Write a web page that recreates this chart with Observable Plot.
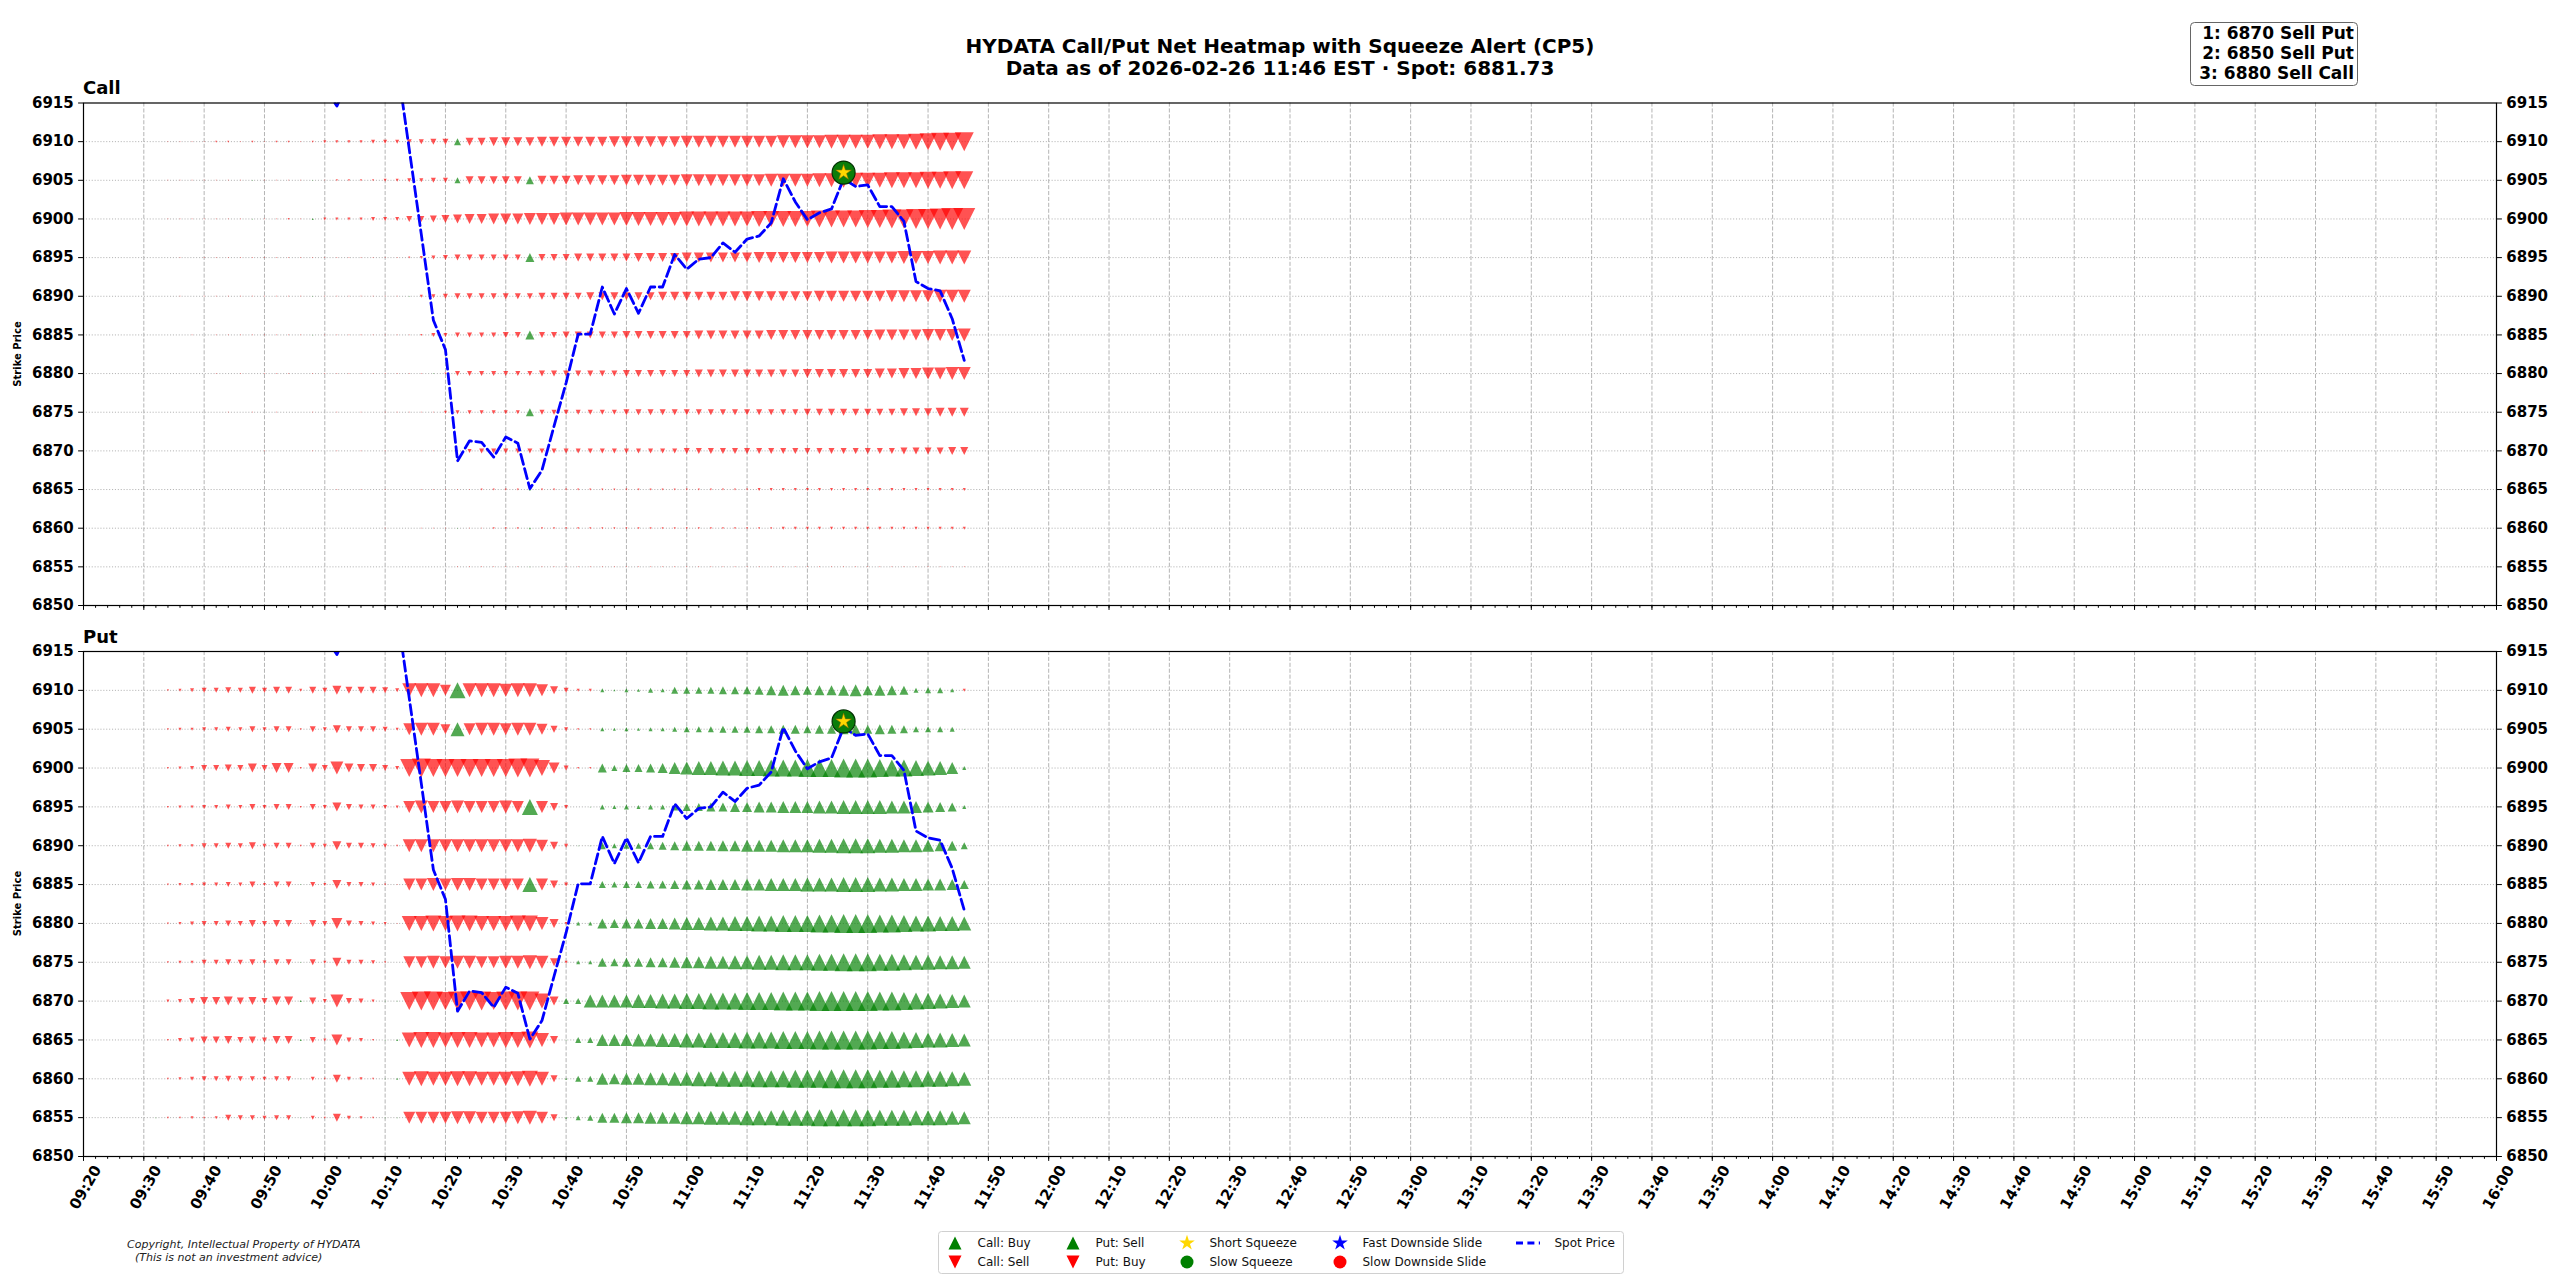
<!DOCTYPE html>
<html><head><meta charset="utf-8">
<script src="https://cdn.jsdelivr.net/npm/d3@7"></script>
<script src="https://cdn.jsdelivr.net/npm/@observablehq/plot@0.6"></script>
<style>
body{margin:0;background:#fff;}
#root{position:relative;width:2560px;height:1280px;overflow:hidden;background:#fff;font-family:"DejaVu Sans",sans-serif;}
#root > div{position:absolute;left:0;}
</style></head><body><div id="root"></div>
<script>
// ---------------- DATA ----------------
const timeLabels = ["09:32","09:34","09:36","09:38","09:40","09:42","09:44","09:46","09:48","09:50","09:52","09:54","09:56","09:58","10:00","10:02","10:04","10:06","10:08","10:10","10:12","10:14","10:16","10:18","10:20","10:22","10:24","10:26","10:28","10:30","10:32","10:34","10:36","10:38","10:40","10:42","10:44","10:46","10:48","10:50","10:52","10:54","10:56","10:58","11:00","11:02","11:04","11:06","11:08","11:10","11:12","11:14","11:16","11:18","11:20","11:22","11:24","11:26","11:28","11:30","11:32","11:34","11:36","11:38","11:40","11:42","11:44","11:46"];
const xTickLabels = ["09:20","09:30","09:40","09:50","10:00","10:10","10:20","10:30","10:40","10:50","11:00","11:10","11:20","11:30","11:40","11:50","12:00","12:10","12:20","12:30","12:40","12:50","13:00","13:10","13:20","13:30","13:40","13:50","14:00","14:10","14:20","14:30","14:40","14:50","15:00","15:10","15:20","15:30","15:40","15:50","16:00"];
const strikes = [6910,6905,6900,6895,6890,6885,6880,6875,6870,6865,6860,6855];
const yTicks = [6850,6855,6860,6865,6870,6875,6880,6885,6890,6895,6900,6905,6910,6915];

// Call net flow per strike (positive = Call: Buy, negative = Call: Sell)
const call6910 = [0,-1,-1,-1,-1,-2,-2,-1,-2,-1,-2,-2,-1,-2,-3,-3,-3,-3,-4,-4,-4,-5,-5,-6,-6,7,-8,-8,-9,-9,-9,-9,-10,-10,-10,-10,-10,-10,-11,-11,-11,-11,-11,-11,-12,-12,-12,-12,-12,-12,-12,-12,-13,-13,-13,-13,-14,-14,-14,-14,-15,-15,-15,-16,-17,-18,-18,-19];
const call6905 = [0,-1,-1,-1,-1,-1,-1,-1,1,-1,-1,-1,-1,1,-1,-2,-2,-2,-2,-3,-3,-4,-4,-5,-5,6,-8,-8,-8,-8,-8,8,-9,-9,-9,-10,-10,-10,-10,-11,-11,-11,-11,-11,-12,-12,-12,-12,-12,-12,-12,-13,-13,-13,-13,-14,-14,-15,-15,-15,-15,-16,-16,-16,-17,-17,-18,-18];
const call6900 = [0,-1,-1,-1,-1,-1,-1,-1,1,-1,-1,-2,-1,2,-3,-3,-3,-3,-4,-4,-4,-6,-6,-7,-8,-9,-10,-10,-11,-11,-11,-12,-12,-12,-13,-13,-13,-13,-13,-14,-14,-14,-14,-14,-15,-15,-15,-15,-15,-15,-16,-16,-16,-16,-16,-17,-17,-17,-17,-18,-18,-19,-19,-20,-20,-21,-22,-22];
const call6895 = [0,0,-1,0,-1,-1,-1,-1,-1,-1,-1,-1,-1,-1,-1,-1,-1,-1,-1,-1,-1,-2,-3,-4,-5,-6,-6,-6,-6,-6,-6,9,-7,-7,-7,-8,-8,-8,-8,-8,-9,-9,-9,-9,-10,-10,-10,-10,-10,-10,-11,-11,-11,-11,-11,-11,-12,-12,-12,-12,-12,-12,-13,-13,-13,-14,-14,-14];
const call6890 = [0,0,-1,0,-1,-1,-1,-1,-1,-1,-1,-1,-1,1,-1,-1,-1,-1,-1,-1,-1,1,-3,-4,-5,-6,-6,-6,-6,-6,-6,-6,-7,-7,-7,-7,-8,-8,-8,-8,-8,-8,-9,-9,-9,-9,-9,-9,-10,-10,-10,-10,-10,-10,-10,-11,-11,-11,-11,-11,-11,-12,-12,-12,-12,-13,-13,-13];
const call6885 = [0,0,0,-1,0,-1,-1,-1,-1,-1,-1,-1,-1,1,-1,-1,-1,-1,-1,-1,-1,-1,-2,-4,-4,-5,-5,-5,-5,-6,-6,9,-6,-6,-7,-7,-7,-7,-7,-8,-8,-8,-8,-8,-8,-9,-9,-9,-9,-9,-9,-10,-10,-10,-10,-10,-10,-10,-10,-10,-11,-11,-11,-11,-12,-12,-12,-13];
const call6880 = [0,0,0,0,0,-1,0,-1,0,-1,-1,-1,0,-1,-1,-1,-1,-1,-1,-1,-1,-1,-1,1,-2,-5,-5,-5,-5,-5,-5,-5,-6,-6,-6,-6,-6,-6,-6,-7,-7,-7,-7,-7,-7,-8,-8,-8,-8,-8,-8,-8,-8,-8,-9,-9,-9,-9,-9,-9,-10,-10,-11,-11,-12,-12,-13,-13];
const call6875 = [0,0,0,0,0,0,-1,0,-1,0,-1,0,0,-1,0,-1,0,-1,0,-1,-1,-1,-1,-1,-3,-4,-4,-4,-4,-4,-4,8,-5,-5,-5,-5,-5,-5,-5,-6,-6,-6,-6,-6,-6,-6,-6,-6,-6,-6,-6,-6,-6,-6,-7,-7,-7,-7,-7,-7,-7,-7,-8,-8,-8,-9,-9,-9];
const call6870 = [0,0,0,0,0,0,0,0,0,-1,0,0,0,-1,0,-1,0,-1,0,-1,0,-1,-1,-1,-1,-1,-4,-5,-5,-5,-5,-5,-5,-5,-5,-5,-5,-5,-5,-5,-5,-5,-5,-5,-6,-6,-6,-6,-6,-6,-6,-6,-6,-6,-6,-6,-6,-6,-6,-6,-6,-6,-7,-7,-7,-7,-8,-8];
const call6865 = [0,0,0,0,0,0,0,0,0,0,0,0,0,0,0,-1,0,-1,0,-1,0,0,-1,-1,-1,-1,-1,-2,-2,-2,-2,2,-2,-2,-2,-2,-2,-2,-2,-2,-2,-2,-2,-2,-2,-2,-2,-2,-2,-2,-3,-3,-3,-3,-3,-3,-3,-3,-3,-3,-3,-3,-3,-3,-3,-3,-3,-3];
const call6860 = [0,0,0,0,0,0,0,0,0,0,0,0,0,0,0,0,0,0,0,-1,0,0,-1,-1,-1,1,-1,-1,-2,-2,-2,2,-2,-2,-2,-2,-2,-2,-2,-2,-2,-2,-2,-2,-2,-2,-2,-2,-2,-2,-2,-2,-3,-3,-3,-3,-3,-3,-3,-3,-3,-3,-3,-3,-3,-3,-3,-3];
const call6855 = [0,0,0,0,0,0,0,0,0,0,0,0,0,0,0,0,0,0,0,0,0,0,0,0,0,-1,-1,-1,-1,-1,-1,1,-1,-1,-1,-1,-1,-1,-1,-1,-1,-1,-1,-1,-1,-1,-1,-1,-1,-1,-1,-1,-1,-1,-1,-1,-1,-1,-1,-1,-1,-1,-1,-1,-1,-1,-1,-1];

// Put net flow per strike (positive = Put: Sell, negative = Put: Buy)
const put6910 = [0,-2,-3,-4,-5,-5,-6,-5, -7,-5,-7,-7,-3,-7,-5,-9,-7,-7,-7,-6,-4, -14,-14,-14,-11,16,-14,-14,-14,-13,-14,-14,-12,-8, -5,-3,-3, 4,2,4,3,5,4,7, 7,7,7,8,8,8, 9,10,11,10,9, 10,10,11,12,10, 11,10,9,5,6, 6,4,-3];
const put6905 = [0,-2,-3,-3,-4,-4,-5,-4, -6,-4,-6,-6,-2,-6,-4,-8,-6,-6,-6,-5,-3, -12,-13,-13,-10,14,-12,-13,-13,-12,-13,-13,-11,-7, -4,-2,-2, 4,3,4,3,4,4,5, 6,6,6,7,7,7, 8,8,9,9,8, 9,9,10,10,9, 10,9,8,6,6, 6,5,1];
const put6900 = [0,-2,-3,-4,-6,-6,-7,-6, -9,-6,-10,-10,-2,-9,-6,-13,-9,-8,-8,-6,-4, -18,-19,-18,-18,-18,-18,-18,-18,-18,-19,-19,-16,-11, -5,-2,-2, 9,6,8,8,9,10,12, 13,14,14,15,15,16, 16,17,17,17,18, 18,18,19,19,19, 18,17,17,16,15, 14,12,4];
const put6895 = [0,-2,-3,-3,-4,-4,-5,-4, -6,-4,-6,-6,-2,-6,-4,-9,-6,-5,-5,-4,-3, -12,-13,-12,-12,-13,-12,-12,-12,-13,-12,16,-12,-8, -4,0,1, 5,4,5,4,5,5,7, 8,8,9,9,10,10, 11,11,12,12,12, 13,13,14,14,14, 14,13,13,12,11, 10,9,4];
const put6890 = [0,-2,-3,-3,-5,-5,-6,-5, -7,-4,-6,-6,-2,-6,-4,-9,-6,-6,-5,-4,-2, -13,-13,-13,-13,-13,-13,-13,-13,-13,-13,-14,-12,-8, -4,1,1, 7,5,6,6,7,8,9, 10,10,10,11,11,12, 12,12,13,13,13, 14,14,15,15,15, 14,14,13,13,12, 11,10,7];
const put6885 = [0,-2,-3,-3,-4,-4,-5,-4, -6,-3,-6,-6,1,-5,-3,-9,-5,-5,-4,-2,-1, -12,-12,-13,-12,-13,-13,-12,-12,-12,-12,15,-12,-8, -4,0,0, 7,6,7,7,8,8,9, 10,10,11,11,11,12, 12,13,13,13,14, 14,14,15,15,15, 14,14,13,13,12, 12,11,9];
const put6880 = [0,-2,-3,-4,-5,-5,-6,-5, -7,-5,-7,-7,-1,-7,-5,-11,-6,-5,-4,-3,-1, -15,-15,-16,-15,-16,-16,-15,-15,-15,-16,-16,-13,-9, -3,4,4, 10,9,10,10,11,11,12, 13,13,14,14,15,15, 16,16,17,17,17, 18,18,19,19,19, 18,18,17,16,16, 15,15,14];
const put6875 = [0,-2,-3,-3,-5,-5,-6,-5, -6,-4,-6,-6,1,-6,-3,-9,-5,-5,-4,-2,0, -12,-12,-13,-12,-13,-13,-12,-12,-13,-13,-14,-13,-8, -3,4,4, 9,8,9,9,10,10,11, 12,12,13,13,14,14, 15,15,16,16,16, 17,17,18,18,18, 17,17,16,15,15, 14,14,13];
const put6870 = [0,-3,-4,-6,-8,-8,-9,-7, -8,-6,-9,-9,2,-7,-4,-13,-6,-5,-3,1,1, -18,-19,-19,-18,-19,-19,-19,-18,-19,-19,-19,-15,-9, 6,6,13, 13,13,13,14,14,15,15, 16,16,17,17,17,18, 18,18,19,19,19, 20,20,20,20,20, 19,19,18,17,16, 15,14,13];
const put6865 = [0,-2,-4,-5,-7,-7,-8,-6, -7,-5,-8,-8,2,-6,-3,-11,-5,-4,-2,1,2, -15,-16,-16,-15,-16,-16,-15,-15,-16,-16,-17,-14,-8, 1,6,6, 12,12,12,13,13,14,14, 15,15,16,16,16,17, 17,17,18,18,18, 19,19,19,19,19, 18,18,17,16,15, 15,14,13];
const put6860 = [0,-2,-3,-4,-5,-5,-6,-5, -5,-4,-5,-5,1,-4,-2,-8,-4,-3,-2,1,2, -14,-15,-14,-14,-15,-15,-14,-14,-14,-15,-16,-14,-7, 2,6,6, 12,11,12,12,13,13,14, 14,15,15,16,16,16, 17,17,17,18,18, 18,19,19,19,19, 18,18,17,17,16, 16,15,14];
const put6855 = [1,-2,-2,-3,-2,-3,-6,-5, -5,-4,-5,-5,1,-4,-2,-8,-4,-3,-2,1,1, -12,-12,-12,-12,-13,-13,-12,-12,-12,-13,-14,-12,-7, 2,5,6, 10,10,11,11,12,12,12, 13,13,14,14,14,15, 15,15,16,16,16, 17,17,17,17,17, 16,16,16,15,15, 15,14,13];

// Spot price (values before 10:14 sit above the 6915 top of the panels)
const spotPrice = [6928,6930,6931,6929,6927,6926,6925,6924,6923,6922,6921,6920,6919,6918,6917,6914.6,6918,6921,6923,6922,6920,6909,6898,6886.9,6883.1,6868.7,6871.3,6871.1,6869.2,6871.8,6871.0,6865.1,6867.5,6873.2,6878.8,6885.1,6885.1,6891.2,6887.7,6891.0,6887.8,6891.2,6891.2,6895.4,6893.5,6894.8,6895.0,6896.9,6895.7,6897.4,6897.8,6899.5,6905.2,6902.2,6899.9,6900.8,6901.3,6905.2,6904.2,6904.4,6901.6,6901.6,6899.7,6891.9,6891.0,6890.7,6887.1,6881.7];

// Squeeze alerts
const alertTimes = ["11:26"];
const alertPrices = [6906];
const alertKinds = ["Short Squeeze + Slow Squeeze"];

const callRows = [call6910,call6905,call6900,call6895,call6890,call6885,call6880,call6875,call6870,call6865,call6860,call6855];
const putRows = [put6910,put6905,put6900,put6895,put6890,put6885,put6880,put6875,put6870,put6865,put6860,put6855];
[...callRows, ...putRows, spotPrice].forEach((r, i) => { if (r.length !== timeLabels.length) throw new Error("row " + i + " has length " + r.length); });

// ---------------- BUILD ----------------
const parseT = s => { const [h, m] = s.split(":").map(Number); return new Date(Date.UTC(2026, 1, 26, h, m)); };
const X0 = parseT("09:20"), X1 = parseT("16:00");
const majorTicks = xTickLabels.map(parseT);
const minorTicks = d3.utcMinute.every(2).range(X0, new Date(+X1 + 1));
const times = timeLabels.map(parseT);

function cells(rows) {
  const out = [];
  strikes.forEach((k, j) => rows[j].forEach((v, i) => { if (v) out.push({t: times[i], strike: k, v}); }));
  return out;
}
const spotRows = spotPrice.map((p, i) => ({t: times[i], p}));
const alerts = alertTimes.map((t, i) => ({t: parseT(t), p: alertPrices[i], kind: alertKinds[i]}));

const triUp = {draw(ctx, size) { const r = Math.sqrt(size / Math.PI); ctx.moveTo(0, -r); ctx.lineTo(r, r); ctx.lineTo(-r, r); ctx.closePath(); }};
const triDown = {draw(ctx, size) { const r = Math.sqrt(size / Math.PI); ctx.moveTo(0, r); ctx.lineTo(r, -r); ctx.lineTo(-r, -r); ctx.closePath(); }};

function panel({top, height, mt, mb, rows, xLabels}) {
  const data = cells(rows);
  const marks = [
    Plot.ruleX(majorTicks, {stroke: "#b4b4b4", strokeWidth: 1, strokeDasharray: "4.1,1.8"}),
    Plot.ruleY(strikes, {stroke: "#b4b4b4", strokeWidth: 1, strokeDasharray: "1.1,1.8"}),
    Plot.dot(data.filter(d => d.v < 0), {x: "t", y: "strike", r: d => -d.v, symbol: triDown, fill: "#ff0000", fillOpacity: 0.68}),
    Plot.dot(data.filter(d => d.v > 0), {x: "t", y: "strike", r: d => d.v, symbol: triUp, fill: "#008000", fillOpacity: 0.68}),
    Plot.line(spotRows, {x: "t", y: "p", stroke: "#0000ff", strokeWidth: 2.8, strokeDasharray: "10.3,4.4", clip: true}),
    Plot.dot(alerts, {x: "t", y: "p", r: 11.5, symbol: "circle", fill: "#0a7d0a", stroke: "#033003", strokeWidth: 1.2}),
    Plot.dot(alerts, {x: "t", y: "p", r: 4.9, symbol: "star", fill: "#ffd700", stroke: "#8a6d00", strokeWidth: 0.6}),
    Plot.frame({stroke: "#000", strokeWidth: 1.2}),
    Plot.axisY({anchor: "left", ticks: yTicks, tickSize: 4.9, tickPadding: 4.9, tickFormat: d => String(d), label: null}),
    Plot.axisY({anchor: "right", ticks: yTicks, tickSize: 4.9, tickPadding: 4.9, tickFormat: d => String(d), label: null}),
    Plot.axisX({anchor: "bottom", ticks: majorTicks, tickSize: 4.9, tickFormat: () => "", label: null}),
    Plot.axisX({anchor: "bottom", ticks: minorTicks, tickSize: 2.8, tickFormat: () => "", label: null})
  ];
  if (xLabels) marks.push(Plot.text(majorTicks, {x: d => d, frameAnchor: "bottom", text: (d, i) => xTickLabels[i], rotate: -60, textAnchor: "middle", lineAnchor: "middle", dy: 31, dx: 2}));
  const svg = Plot.plot({
    width: 2560, height, marginTop: mt, marginBottom: mb, marginLeft: 83, marginRight: 64,
    x: {type: "utc", domain: [X0, X1]},
    y: {domain: [6850, 6915]},
    r: {type: "linear", domain: [0, 24], range: [0, 12]},
    style: {fontFamily: "DejaVu Sans", fontSize: "15px", fontWeight: "bold", color: "#000", background: "transparent", overflow: "visible"},
    marks
  });
  const wrap = document.createElement("div");
  wrap.style.top = top + "px";
  wrap.appendChild(svg);
  document.getElementById("root").appendChild(wrap);
}

panel({top: 0, height: 640, mt: 102.5, mb: 35, rows: callRows, xLabels: false});
panel({top: 620, height: 660, mt: 31, mb: 124, rows: putRows, xLabels: true});

// ---------------- TEXT / LEGENDS ----------------
const ov = d3.select("#root").append("svg").attr("width", 2560).attr("height", 1280)
  .style("position", "absolute").style("left", 0).style("top", 0).style("pointer-events", "none")
  .style("font-family", "DejaVu Sans");
ov.append("text").attr("x", 1280).attr("y", 53).attr("text-anchor", "middle").attr("font-weight", "bold").attr("font-size", 20)
  .text("HYDATA Call/Put Net Heatmap with Squeeze Alert (CP5)");
ov.append("text").attr("x", 1280).attr("y", 75).attr("text-anchor", "middle").attr("font-weight", "bold").attr("font-size", 20)
  .text("Data as of 2026-02-26 11:46 EST \u00b7 Spot: 6881.73");
ov.append("text").attr("x", 83).attr("y", 94).attr("font-weight", "bold").attr("font-size", 18).text("Call");
ov.append("text").attr("x", 83).attr("y", 643).attr("font-weight", "bold").attr("font-size", 18).text("Put");
[354, 903.5].forEach(cy => ov.append("text").attr("transform", `translate(17,${cy}) rotate(-90)`).attr("text-anchor", "middle")
  .attr("dominant-baseline", "central").attr("font-weight", "bold").attr("font-size", 10).text("Strike Price"));

// recommendation box
const recs = ["1: 6870 Sell Put", "2: 6850 Sell Put", "3: 6880 Sell Call"];
ov.append("rect").attr("x", 2190.5).attr("y", 22.5).attr("width", 167).attr("height", 63).attr("rx", 4)
  .attr("fill", "#fff").attr("stroke", "#666").attr("stroke-width", 1);
recs.forEach((t, i) => ov.append("text").attr("x", 2354).attr("y", 39 + i * 20).attr("text-anchor", "end")
  .attr("font-weight", "bold").attr("font-size", 17).text(t));

// copyright
ov.append("text").attr("x", 127).attr("y", 1248).attr("font-style", "italic").attr("font-size", 11).attr("fill", "#222")
  .text("Copyright, Intellectual Property of HYDATA");
ov.append("text").attr("x", 135).attr("y", 1261).attr("font-style", "italic").attr("font-size", 11).attr("fill", "#222")
  .text("(This is not an investment advice)");

// bottom legend
ov.append("rect").attr("x", 938.5).attr("y", 1231.5).attr("width", 685).attr("height", 42).attr("rx", 3)
  .attr("fill", "#fff").attr("stroke", "#d0d0d0").attr("stroke-width", 1);
const legendItems = [
  {x: 955, y: 1243, sym: "up", color: "#008000", label: "Call: Buy"},
  {x: 955, y: 1262, sym: "down", color: "#ff0000", label: "Call: Sell"},
  {x: 1073, y: 1243, sym: "up", color: "#008000", label: "Put: Sell"},
  {x: 1073, y: 1262, sym: "down", color: "#ff0000", label: "Put: Buy"},
  {x: 1187, y: 1243, sym: "star", color: "#ffd700", label: "Short Squeeze"},
  {x: 1187, y: 1262, sym: "circle", color: "#008000", label: "Slow Squeeze"},
  {x: 1340, y: 1243, sym: "star", color: "#0000ff", label: "Fast Downside Slide"},
  {x: 1340, y: 1262, sym: "circle", color: "#ff0000", label: "Slow Downside Slide"},
  {x: 1528, y: 1243, sym: "dash", color: "#0000ff", label: "Spot Price"}
];
legendItems.forEach(it => {
  const g = ov.append("g").attr("transform", `translate(${it.x},${it.y})`);
  if (it.sym === "up") g.append("path").attr("d", "M0,-6.5L6.5,6.5L-6.5,6.5Z").attr("fill", it.color);
  else if (it.sym === "down") g.append("path").attr("d", "M0,6.5L6.5,-6.5L-6.5,-6.5Z").attr("fill", it.color);
  else if (it.sym === "star") g.append("path").attr("d", d3.symbol(d3.symbolStar, 75)()).attr("fill", it.color);
  else if (it.sym === "circle") g.append("circle").attr("r", 6.5).attr("fill", it.color);
  else g.append("line").attr("x1", -12).attr("x2", 12).attr("stroke", it.color).attr("stroke-width", 2.8).attr("stroke-dasharray", "7,4.4");
  ov.append("text").attr("x", it.x + (it.sym === "dash" ? 26.5 : 22.5)).attr("y", it.y + 4.3).attr("font-size", 12).attr("fill", "#111").text(it.label);
});
</script></body></html>
